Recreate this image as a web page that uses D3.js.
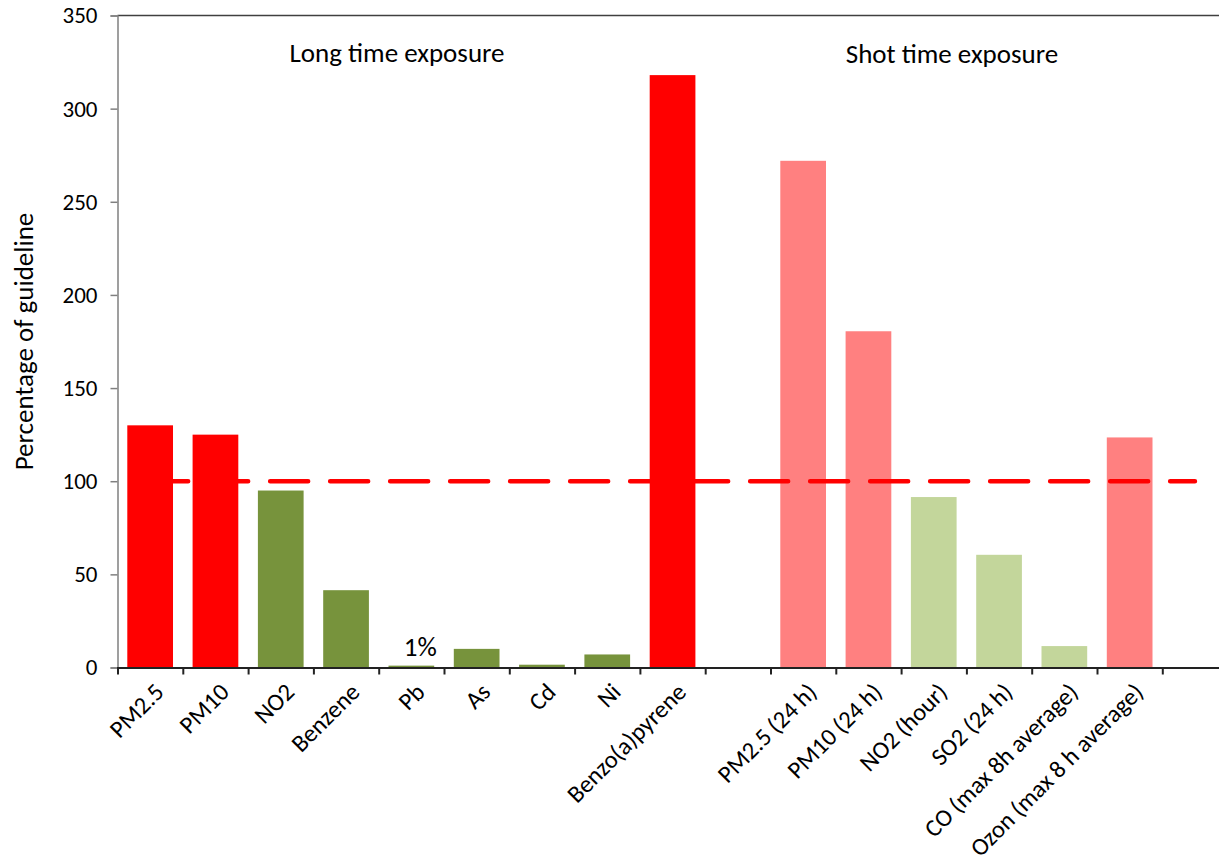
<!DOCTYPE html>
<html>
<head>
<meta charset="utf-8">
<script src="https://cdn.jsdelivr.net/npm/d3@7"></script>
<style>
  html, body { margin: 0; padding: 0; background: #fff; }
  svg { display: block; font-family: Carlito, Lato, "Open Sans", sans-serif; }
</style>
</head>
<body>
<svg id="chart" width="1219" height="863"></svg>
<script>
// Pollutant categories (the empty slot separates the two exposure groups)
const categories = [
  "PM2.5", "PM10", "NO2", "Benzene", "Pb", "As", "Cd", "Ni", "Benzo(a)pyrene",
  "", "PM2.5 (24 h)", "PM10 (24 h)", "NO2 (hour)", "SO2 (24 h)",
  "CO (max 8h average)", "Ozon (max 8 h average)", " "
];
// Percentage of guideline per pollutant
const values = [130, 125, 95, 41.5, 1, 10, 1.5, 7, 318,
  null, 272, 180.5, 91.5, 60.5, 11.5, 123.5, null];
// Bar colour group per category
const groups = ["longOver", "longOver", "longUnder", "longUnder", "longUnder", "longUnder", "longUnder", "longUnder", "longOver",
  null, "shortOver", "shortOver", "shortUnder", "shortUnder", "shortUnder", "shortOver", null];
// Guideline level (100 %)
const guideline = categories.map(() => 100);
const yTicks = [0, 50, 100, 150, 200, 250, 300, 350];

const colors = {
  longOver: "#FF0000",
  longUnder: "#77933C",
  shortOver: "#FF8080",
  shortUnder: "#C3D69B"
};

const svg = d3.select("#chart");
const plotLeft = 117.5, plotTop = 15.5, plotBottom = 667.5;
const slot = 65.3;
const plotRight = plotLeft + slot * categories.length;

const x = d3.scaleBand().domain(d3.range(categories.length)).range([plotLeft, plotRight]).paddingInner(0.3).paddingOuter(0.15);
const xc = d3.scalePoint().domain(d3.range(categories.length)).range([plotLeft, plotRight]).padding(0.5);
const y = d3.scaleLinear().domain([0, 350]).range([plotBottom, plotTop]);

// Bars
svg.append("g").selectAll("rect")
  .data(values.map((v, i) => ({ v, i })).filter(d => d.v != null))
  .join("rect")
  .attr("x", d => x(d.i))
  .attr("width", x.bandwidth())
  .attr("y", d => y(d.v))
  .attr("height", d => y(0) - y(d.v))
  .attr("fill", d => colors[groups[d.i]]);

// Frame top edge
svg.append("line")
  .attr("x1", plotLeft).attr("x2", plotRight).attr("y1", plotTop).attr("y2", plotTop)
  .attr("stroke", "#404040").attr("stroke-width", 1.5);

// Y axis
const yAxis = svg.append("g")
  .attr("transform", `translate(${plotLeft},0)`)
  .call(d3.axisLeft(y).tickValues(yTicks).tickSize(7).tickPadding(13));
yAxis.select(".domain").attr("stroke", "#808080").attr("stroke-width", 1.5);
yAxis.selectAll(".tick line").attr("stroke", "#808080").attr("stroke-width", 1.5);
yAxis.selectAll(".tick text")
  .attr("font-size", 23).attr("fill", "#000")
  .attr("font-family", "Carlito, Lato, 'Open Sans', sans-serif");

// X axis with rotated category labels
const xAxis = svg.append("g")
  .attr("transform", `translate(0,${plotBottom})`)
  .call(d3.axisBottom(d3.scaleLinear().domain([0, categories.length]).range([plotLeft, plotRight]))
    .tickValues(d3.range(1, categories.length + 1)).tickSize(7).tickFormat(""));
xAxis.select(".domain").attr("stroke", "#222").attr("stroke-width", 2);
xAxis.selectAll(".tick line").attr("stroke", "#222").attr("stroke-width", 2);

svg.append("g").selectAll("text")
  .data(categories.map((c, i) => ({ c, i })).filter(d => d.c.trim() !== ""))
  .join("text")
  .attr("transform", d => `translate(${xc(d.i) + 9},${plotBottom + 20}) rotate(-45)`)
  .attr("text-anchor", "end")
  .attr("dy", "0.35em")
  .attr("font-size", 24.5)
  .attr("fill", "#000")
  .text(d => d.c);

// Guideline dashed line
const line = d3.line().x((d, i) => xc(i)).y(d => y(d));
svg.append("path")
  .datum(guideline)
  .attr("d", line)
  .attr("fill", "none")
  .attr("stroke", "#FF0000")
  .attr("stroke-width", 4.5)
  .attr("stroke-linecap", "round")
  .attr("stroke-dasharray", "38,22");

// Y axis title
svg.append("text")
  .attr("transform", `translate(33,${(plotTop + plotBottom) / 2}) rotate(-90)`)
  .attr("text-anchor", "middle")
  .attr("font-size", 27)
  .attr("fill", "#000")
  .text("Percentage of guideline");

// Group annotations
svg.append("text")
  .attr("x", 397).attr("y", 62)
  .attr("text-anchor", "middle").attr("font-size", 27).attr("fill", "#000")
  .text("Long time exposure");
svg.append("text")
  .attr("x", 952).attr("y", 63)
  .attr("text-anchor", "middle").attr("font-size", 27).attr("fill", "#000")
  .text("Shot time exposure");

// Value label for the lead bar
svg.append("text")
  .attr("x", xc(4) + 9).attr("y", 656)
  .attr("text-anchor", "middle").attr("font-size", 27).attr("fill", "#000")
  .text(values[4] + "%");
</script>
</body>
</html>
